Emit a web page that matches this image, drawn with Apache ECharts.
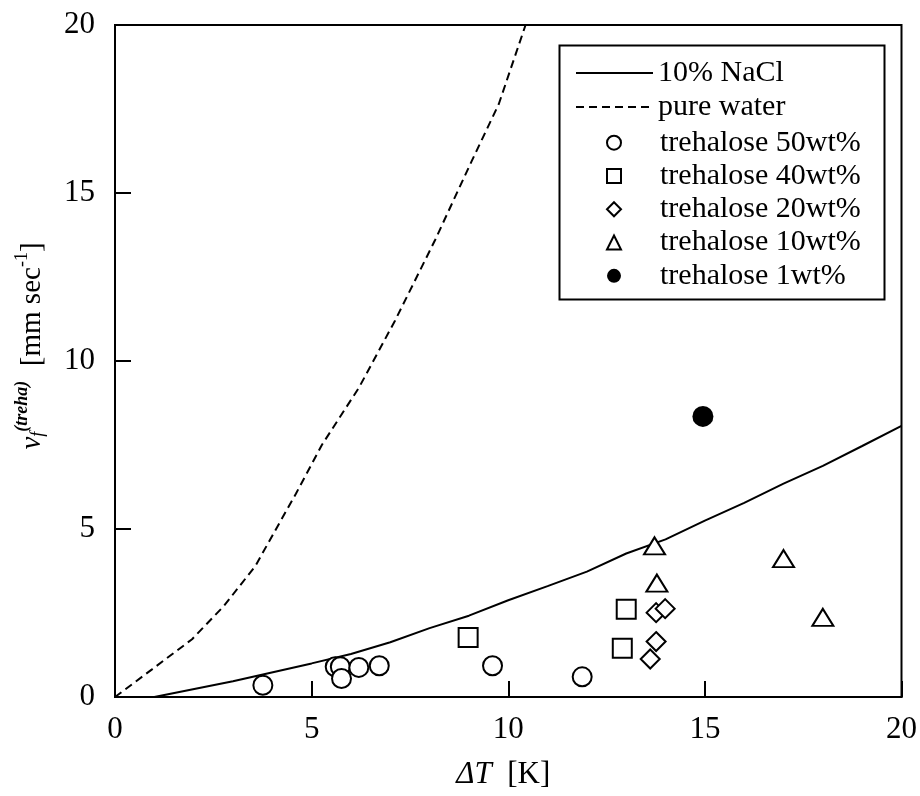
<!DOCTYPE html>
<html>
<head>
<meta charset="utf-8">
<script src="https://cdn.jsdelivr.net/npm/echarts@6/dist/echarts.min.js"></script>
<style>
html,body{margin:0;padding:0;background:#fff;}
#chart{width:920px;height:796px;}
</style>
</head>
<body>
<div id="chart"></div>
<script>
// ---- data ----
var xTicks = [0, 5, 10, 15, 20];
var yTicks = [0, 5, 10, 15, 20];
var nacl10 = [[1,0],[3,0.47],[5,1.0],[6,1.28],[7,1.63],[8,2.05],[9,2.42],[10,2.88],[11,3.3],[12,3.73],[13,4.27],[14,4.69],[15,5.25],[16,5.78],[17,6.35],[18,6.88],[19,7.47],[20,8.07]];
var pureWater = [[0,0],[0.95,0.83],[1.96,1.72],[2.77,2.71],[3.57,3.9],[4.0,4.8],[4.6,6.05],[5.26,7.5],[6.2,9.2],[7.12,11.2],[8.14,13.6],[9.07,15.95],[9.76,17.65],[10.44,20]];
var treha50 = [[3.76,0.35],[5.6,0.9],[5.73,0.9],[5.76,0.55],[6.2,0.88],[6.72,0.93],[9.6,0.93],[11.88,0.6]];
var treha40 = [[8.98,1.77],[13.0,2.61],[12.9,1.45]];
var treha20 = [[13.76,2.51],[13.99,2.63],[13.76,1.65],[13.61,1.13]];
var treha10 = [[13.72,4.5],[13.78,3.39],[17.0,4.12],[18.0,2.37]];
var treha1 = [[14.95,8.35]];
var seriesNames = ['10% NaCl','pure water','trehalose 50wt%','trehalose 40wt%','trehalose 20wt%','trehalose 10wt%','trehalose 1wt%'];

var FONT = '"Liberation Serif","Times New Roman",serif';
var chart = echarts.init(document.getElementById('chart'), null, {renderer:'canvas'});

var hollow = {color:'#fff', borderColor:'#000', borderWidth:2, opacity:1};
function scatter(name, data, symbol, style, size){
  return {name:name, type:'scatter', data:data, symbol:symbol, symbolSize:size,
    itemStyle:style, emphasis:{disabled:true}, z:3};
}

var option = {
  backgroundColor:'#fff',
  animation:false,
  textStyle:{fontFamily:FONT, color:'#000'},
  grid:{left:115, right:16, top:25, bottom:99, show:true, borderColor:'#000', borderWidth:2, containLabel:false},
  xAxis:{
    type:'value', min:xTicks[0], max:xTicks[xTicks.length-1], interval:5,
    axisLine:{show:true, onZero:false, lineStyle:{color:'#000', width:2}},
    axisTick:{show:true, inside:true, length:16, lineStyle:{color:'#000', width:2}},
    axisLabel:{fontSize:31, fontFamily:FONT, color:'#000', margin:17},
    splitLine:{show:false},
    name:'{it|ΔT}{n|  [K]}', nameLocation:'middle', nameGap:62,
    nameTextStyle:{padding:[0,10,0,0], rich:{
      it:{fontSize:31, fontStyle:'italic', fontFamily:FONT, color:'#000'},
      n:{fontSize:31, fontFamily:FONT, color:'#000'}
    }}
  },
  yAxis:{
    type:'value', min:yTicks[0], max:yTicks[yTicks.length-1], interval:5,
    axisLine:{show:true, onZero:false, lineStyle:{color:'#000', width:2}},
    axisTick:{show:true, inside:true, length:16, lineStyle:{color:'#000', width:2}},
    axisLabel:{fontSize:31, fontFamily:FONT, color:'#000', margin:20},
    splitLine:{show:false},
    name:'{v|v}{sub|f}{sup|(treha)}{n|  [mm sec}{sup2|-1}{n|]}',
    nameLocation:'middle', nameGap:68, nameRotate:90,
    nameTextStyle:{padding:[0,0,0,30], rich:{
      v:{fontSize:29, fontStyle:'italic', fontFamily:FONT, color:'#000', verticalAlign:'bottom', lineHeight:34},
      sub:{fontSize:18, fontStyle:'italic', fontFamily:FONT, color:'#000', verticalAlign:'bottom', lineHeight:28},
      sup:{fontSize:18, fontStyle:'italic', fontWeight:'bold', fontFamily:FONT, color:'#000', verticalAlign:'top', lineHeight:20},
      n:{fontSize:29, fontFamily:FONT, color:'#000', verticalAlign:'bottom', lineHeight:34},
      sup2:{fontSize:18, fontFamily:FONT, color:'#000', verticalAlign:'top', lineHeight:22}
    }}
  },
  legend:[{
    data:[seriesNames[0], seriesNames[1]],
    orient:'vertical', left:575, top:56, itemGap:0, itemWidth:77, itemHeight:14,
    padding:0, selectedMode:false,
    itemStyle:{color:'rgba(0,0,0,0)', borderWidth:0, opacity:0},
    textStyle:{fontSize:30, fontFamily:FONT, color:'#000', lineHeight:34}
  },{
    data:[
      {name:seriesNames[2], icon:'circle', itemStyle:{color:'#fff', borderColor:'#000', borderWidth:2, opacity:1}},
      {name:seriesNames[3], icon:'rect', itemStyle:{color:'#fff', borderColor:'#000', borderWidth:2, opacity:1}},
      {name:seriesNames[4], icon:'diamond', itemStyle:{color:'#fff', borderColor:'#000', borderWidth:2, opacity:1}},
      {name:seriesNames[5], icon:'triangle', itemStyle:{color:'#fff', borderColor:'#000', borderWidth:2, opacity:1}},
      {name:seriesNames[6], icon:'circle', itemStyle:{color:'#000', borderColor:'#000', borderWidth:0, opacity:1}}
    ],
    orient:'vertical', left:606, top:126, itemGap:0, itemWidth:14, itemHeight:14,
    padding:0, selectedMode:false,
    textStyle:{fontSize:30, fontFamily:FONT, color:'#000', lineHeight:33.3, padding:[0,0,0,34]}
  }],
  graphic:[{
    type:'rect', left:557, top:43, shape:{width:325, height:254},
    style:{fill:'none', stroke:'#000', lineWidth:2}, z:10, silent:true
  }],
  series:[
    {name:seriesNames[0], type:'line', data:nacl10, symbol:'none', smooth:false,
      lineStyle:{color:'#000', width:2}, itemStyle:{color:'#000'}, emphasis:{disabled:true}, z:2},
    {name:seriesNames[1], type:'line', data:pureWater, symbol:'none', smooth:false,
      lineStyle:{color:'#000', width:2, type:[8,5]}, itemStyle:{color:'#000'}, emphasis:{disabled:true}, z:2},
    scatter(seriesNames[2], treha50, 'circle', hollow, 19),
    scatter(seriesNames[3], treha40, 'rect', hollow, 19),
    scatter(seriesNames[4], treha20, 'diamond', hollow, 19),
    scatter(seriesNames[5], treha10, 'triangle', hollow, [21,17]),
    scatter(seriesNames[6], treha1, 'circle', {color:'#000', borderColor:'#000', borderWidth:0, opacity:1}, 21)
  ]
};
chart.setOption(option);
</script>
</body>
</html>
